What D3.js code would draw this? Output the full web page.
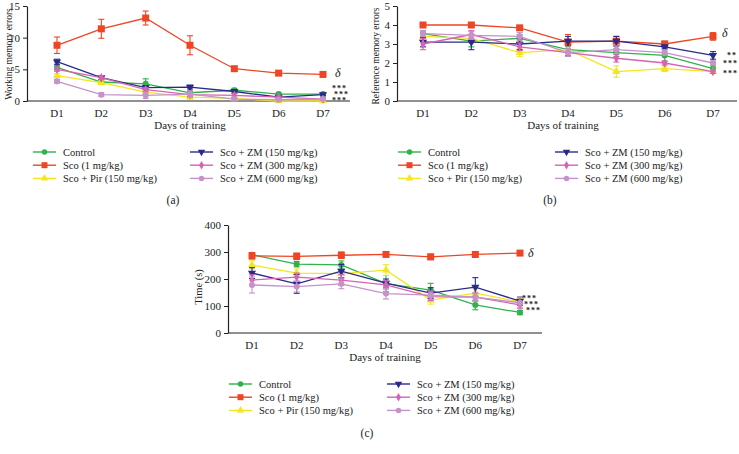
<!DOCTYPE html>
<html><head><meta charset="utf-8">
<script src="https://cdn.jsdelivr.net/npm/d3@7"></script>
<style>body{margin:0;background:#fff}svg{display:block}text{font-family:"Liberation Serif","DejaVu Serif",serif;fill:#222}</style>
</head><body><svg id="c" width="739" height="454"></svg>
<script>
const days = ["D1","D2","D3","D4","D5","D6","D7"];
const groups = ["Control","Sco (1 mg/kg)","Sco + Pir (150 mg/kg)","Sco + ZM (150 mg/kg)","Sco + ZM (300 mg/kg)","Sco + ZM (600 mg/kg)"];
const colors = ["#2fb24a","#ee4524","#f3e61c","#2a2a8a","#d663b3","#c592c9"];
const shapes = ["circle","square","triangle","triangleDown","diamond","circle"];

// (a) Working memory errors
const wmControl = [5.3,3.0,2.7,1.3,1.7,1.1,1.1];
const wmSco     = [8.8,11.4,13.1,8.8,5.1,4.4,4.2];
const wmPir     = [4.0,2.9,1.4,0.6,0.4,0.0,0.0];
const wmZM150   = [6.2,3.7,2.1,2.2,1.5,0.6,1.0];
const wmZM300   = [5.0,3.7,1.8,1.0,0.9,0.6,0.3];
const wmZM600   = [3.1,1.0,0.9,1.1,0.3,0.2,0.3];
const wmErrControl = [0.4,0.3,0.8,0.3,0.3,0.2,0.2];
const wmErrSco     = [1.3,1.5,1.1,1.5,0.3,0.2,0.4];
const wmErrPir     = [0.3,0.3,0.3,0.3,0.2,0.1,0.1];
const wmErrZM150   = [0.4,0.3,0.3,0.3,0.3,0.2,0.2];
const wmErrZM300   = [0.3,0.3,0.3,0.3,0.3,0.2,0.2];
const wmErrZM600   = [0.3,0.3,0.5,0.5,0.3,0.2,0.2];
const wmTicks = [0,5,10,15];

// (b) Reference memory errors
const rmControl = [3.55,3.15,3.3,2.7,2.55,2.4,1.7];
const rmSco     = [4.0,4.0,3.85,3.1,3.15,3.0,3.4];
const rmPir     = [3.4,3.3,2.55,2.7,1.55,1.7,1.55];
const rmZM150   = [3.1,3.1,3.0,3.15,3.15,2.85,2.4];
const rmZM300   = [3.0,3.5,2.85,2.55,2.25,2.0,1.55];
const rmZM600   = [3.55,3.45,3.4,2.55,2.7,2.55,2.0];
const rmErrControl = [0.15,0.3,0.2,0.3,0.2,0.3,0.15];
const rmErrSco     = [0.05,0.05,0.1,0.4,0.25,0.15,0.2];
const rmErrPir     = [0.15,0.2,0.2,0.2,0.3,0.15,0.1];
const rmErrZM150   = [0.25,0.4,0.3,0.25,0.25,0.1,0.2];
const rmErrZM300   = [0.3,0.2,0.2,0.2,0.2,0.1,0.1];
const rmErrZM600   = [0.15,0.2,0.2,0.2,0.2,0.15,0.1];
const rmTicks = [0,1,2,3,4,5];

// (c) Time (s)
const tControl = [290,255,252,183,159,104,76];
const tSco     = [286,284,288,291,282,291,296];
const tPir     = [252,222,220,233,122,148,115];
const tZM150   = [222,182,229,185,148,170,118];
const tZM300   = [196,207,196,178,135,133,104];
const tZM600   = [178,172,182,146,140,133,112];
const tErrControl = [8,10,15,30,25,18,8];
const tErrSco     = [12,12,12,6,10,10,5];
const tErrPir     = [15,15,15,20,15,15,12];
const tErrZM150   = [20,35,25,15,20,35,15];
const tErrZM300   = [20,15,20,15,15,15,12];
const tErrZM600   = [30,20,18,20,15,15,20];
const tTicks = [0,100,200,300,400];

const svg = d3.select("#c");

function symbolPath(shape, s){
  if(shape==="circle") return d3.symbol(d3.symbolCircle, s*s*0.8)();
  if(shape==="square") return d3.symbol(d3.symbolSquare, s*s)();
  if(shape==="triangle") return d3.symbol(d3.symbolTriangle, s*s*0.8)();
  if(shape==="triangleDown") return d3.symbol(d3.symbolTriangle, s*s*0.8)();
  if(shape==="diamond") return d3.symbol(d3.symbolDiamond, s*s*0.7)();
}
function marker(g, shape, x, y, col, s){
  g.append("path").attr("d", symbolPath(shape,s))
   .attr("transform", `translate(${x},${y})` + (shape==="triangleDown"?" rotate(180)":""))
   .attr("fill", col);
}

function panel(cfg){
  const g = svg.append("g");
  const x = d3.scalePoint().domain(days).range([cfg.x1, cfg.x7]);
  const y = d3.scaleLinear().domain([0, cfg.ymax]).range([cfg.y0, cfg.ytop]);
  const ya = g.append("g").attr("transform",`translate(${cfg.ax},0)`)
    .call(d3.axisLeft(y).tickValues(cfg.ticks).tickFormat(d3.format("d")).tickSize(4).tickSizeOuter(0));
  ya.select(".domain").attr("stroke","#222").attr("stroke-width",1.2);
  ya.selectAll(".tick line").attr("stroke","#222");
  ya.selectAll("text").attr("font-size",11).attr("font-family","Liberation Serif, serif").attr("fill","#222");
  g.append("line").attr("x1",cfg.ax).attr("x2",cfg.axEnd).attr("y1",cfg.y0).attr("y2",cfg.y0)
    .attr("stroke","#222").attr("stroke-width",1.2);
  days.forEach(d=>{
    g.append("text").attr("x",x(d)).attr("y",cfg.y0+16).attr("text-anchor","middle")
      .attr("font-size",11).text(d);
  });
  g.append("text").attr("x",cfg.xlabX).attr("y",cfg.y0+28).attr("text-anchor","middle")
    .attr("font-size",11).text("Days of training");
  g.append("text").attr("transform",`translate(${cfg.ylabX},${cfg.ylabY}) rotate(-90)`)
    .attr("text-anchor","middle").attr("font-size",cfg.ylabSize).text(cfg.ylabel);
  const line = d3.line().x((v,i)=>x(days[i])).y(v=>y(v));
  cfg.series.forEach((vals,k)=>{
    const col = colors[k];
    const errs = cfg.errs[k];
    vals.forEach((v,i)=>{
      const cx = x(days[i]);
      g.append("line").attr("x1",cx).attr("x2",cx).attr("y1",y(v-errs[i])).attr("y2",y(v+errs[i]))
        .attr("stroke",col).attr("stroke-width",1.1);
      [v-errs[i], v+errs[i]].forEach(e=>{
        g.append("line").attr("x1",cx-3).attr("x2",cx+3).attr("y1",y(e)).attr("y2",y(e))
          .attr("stroke",col).attr("stroke-width",1.1);
      });
    });
    g.append("path").attr("d",line(vals)).attr("fill","none").attr("stroke",col).attr("stroke-width",1.3);
    vals.forEach((v,i)=> marker(g, shapes[k], x(days[i]), y(v), col, k===1?7:6));
  });
  g.append("text").attr("x",cfg.delta[0]).attr("y",cfg.delta[1]).attr("font-size",12)
    .attr("font-style","italic").text("δ");
  const st = g.append("text").attr("font-size",8).attr("font-family","DejaVu Sans, sans-serif")
      .attr("font-weight","bold").attr("letter-spacing","1");
  cfg.stars.forEach(s=>{
    st.append("tspan").attr("x",s[0]).attr("y",s[1]).text(s[2]);
  });
  groups.forEach((name,k)=>{
    const col = k<3 ? 0 : 1;
    const row = k%3;
    const lx = cfg.leg[col];
    const ly = cfg.legY + row*13.2;
    g.append("line").attr("x1",lx).attr("x2",lx+23).attr("y1",ly).attr("y2",ly)
      .attr("stroke",colors[k]).attr("stroke-width",1.4);
    marker(g, shapes[k], lx+11.5, ly, colors[k], k===1?6:5.5);
    g.append("text").attr("x",lx+30).attr("y",ly+3.8).attr("font-size",10.5).text(name);
  });
  g.append("text").attr("x",cfg.tag[0]).attr("y",cfg.tag[1]).attr("text-anchor","middle")
    .attr("font-size",11.5).text(cfg.tagText);
}

panel({ax:27, axEnd:350, x1:57, x7:323, y0:101, ytop:6, ymax:15, ticks:wmTicks,
  ylabel:"Working memory errors", ylabX:12, ylabY:54, ylabSize:9.5, xlabX:190,
  series:[wmControl,wmSco,wmPir,wmZM150,wmZM300,wmZM600],
  errs:[wmErrControl,wmErrSco,wmErrPir,wmErrZM150,wmErrZM300,wmErrZM600],
  delta:[335,77], stars:[[332,91,"***"],[334,97,"***"],[332,103,"***"]],
  leg:[33,190], legY:152, tag:[173,204], tagText:"(a)"});

panel({ax:397, axEnd:737, x1:423, x7:713, y0:101, ytop:6, ymax:5, ticks:rmTicks,
  ylabel:"Reference memory errors", ylabX:379, ylabY:56, ylabSize:9.5, xlabX:563,
  series:[rmControl,rmSco,rmPir,rmZM150,rmZM300,rmZM600],
  errs:[rmErrControl,rmErrSco,rmErrPir,rmErrZM150,rmErrZM300,rmErrZM600],
  delta:[722,37], stars:[[727,58,"**"],[723,66,"***"],[723,76,"***"]],
  leg:[398,555], legY:152, tag:[550,204], tagText:"(b)"});

panel({ax:228, axEnd:542, x1:252, x7:520, y0:333, ytop:225, ymax:400, ticks:tTicks,
  ylabel:"Time (s)", ylabX:202, ylabY:287, ylabSize:10.5, xlabX:385,
  series:[tControl,tSco,tPir,tZM150,tZM300,tZM600],
  errs:[tErrControl,tErrSco,tErrPir,tErrZM150,tErrZM300,tErrZM600],
  delta:[528,257], stars:[[522,301,"***"],[524,307,"***"],[526,313,"***"]],
  leg:[229,387], legY:384, tag:[367,437], tagText:"(c)"});
</script></body></html>
